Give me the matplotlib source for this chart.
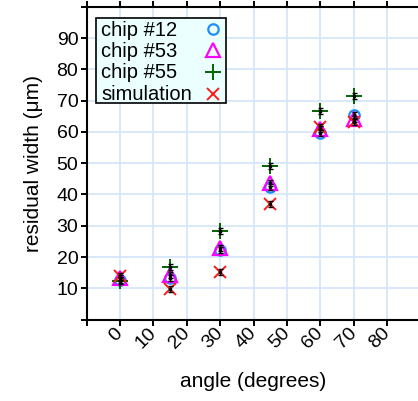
import matplotlib
matplotlib.use("Agg")
import matplotlib.pyplot as plt
from matplotlib.patches import Rectangle

plt.rcParams['font.family'] = ['Liberation Sans', 'DejaVu Sans']

# angles (degrees)
angle = [0, 15, 30, 45, 60, 70]

# residual widths (um)
chip12 = [12.6, 13.4, 22.3, 42.3, 59.6, 65.3]
chip53 = [13.4, 14.2, 22.9, 43.6, 61.0, 64.2]
chip55 = [12.4, 16.7, 28.3, 49.2, 66.8, 71.6]
simulation = [13.8, 9.9, 15.1, 36.9, 61.6, 63.2]
err = [1.0, 1.0, 1.0, 1.0, 1.0, 1.0]

labels = ['chip #12', 'chip #53', 'chip #55', 'simulation']
xticks = [-10, 0, 10, 20, 30, 40, 50, 60, 70, 80, 90]
xticklabels = ['', '0', '10', '20', '30', '40', '50', '60', '70', '80', '']
yticks = [0, 10, 20, 30, 40, 50, 60, 70, 80, 90, 100]
yticklabels = ['', '10', '20', '30', '40', '50', '60', '70', '80', '90', '']

W, H = 418, 401
fig = plt.figure(figsize=(W / 100, H / 100), dpi=100)
ax = fig.add_axes([0.2074, 0.203, 0.7986, 0.780])

def fpix(px, py):
    # pixel position (from top-left) -> figure fraction
    return px / W, 1 - py / H

styles = [
    dict(marker='o', mfc='none', mec='#1e8fff', ms=7.5, mew=1.6),
    dict(marker='^', mfc='none', mec='#ff00ff', ms=10, mew=1.6),
    dict(marker='+', color='#006400', ms=12, mew=1.4),
    dict(marker='x', color='#ff1a1a', ms=8.5, mew=1.4),
]
data = [chip12, chip53, chip55, simulation]
for vals, style in zip(data, styles):
    ax.plot(angle, vals, ls='none', zorder=3, **style)
for vals in data:
    ax.errorbar(angle, vals, yerr=err, fmt='s', color='black', ms=2,
                elinewidth=1.0, capsize=1.8, capthick=1.0, zorder=4)

ax.set_xlim(-10, 90)
ax.set_ylim(0, 100)
ax.set_xticks(xticks)
ax.set_xticklabels(xticklabels, rotation=45, ha='right', va='center',
                   rotation_mode='anchor', fontsize=14)
ax.set_yticks(yticks)
ax.set_yticklabels(yticklabels, fontsize=14)
ax.tick_params(axis='both', direction='out', length=4, width=1.4, pad=2)
ax.tick_params(axis='x', top=True, pad=4)
ax.grid(True, color='#d2e5fa', lw=1.2, zorder=0)
ax.set_axisbelow(True)
for s in ['left', 'bottom', 'top']:
    ax.spines[s].set_linewidth(1.5)
ax.spines['right'].set_visible(False)

ax.set_xlabel('angle (degrees)', fontsize=15, labelpad=14)
ax.set_ylabel('residual width (\u03bcm)', fontsize=15, labelpad=10)

# legend box: text left-aligned, markers on the right
x0, y0 = fpix(96, 103.3)
x1, y1 = fpix(226, 17.7)
fig.add_artist(Rectangle((x0, y0), x1 - x0, y1 - y0, transform=fig.transFigure,
                         facecolor='#ecffff', edgecolor='black', lw=1.2, zorder=5))
for i, (lab, style) in enumerate(zip(labels, styles)):
    tx, ty = fpix(101, 35.5 + 21.5 * i)
    fig.text(tx, ty, lab, fontsize=14.5, va='baseline', ha='left', zorder=6)
    mx, my = fpix(213, 28.5 + 21.8 * i)
    fig.add_artist(plt.Line2D([mx], [my], transform=fig.transFigure, ls='none',
                              zorder=6, **style))

fig.savefig('out.png', dpi=100)
